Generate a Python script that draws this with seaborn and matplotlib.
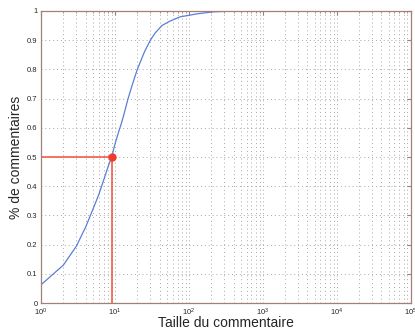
import matplotlib
matplotlib.use("Agg")
import matplotlib.pyplot as plt
import seaborn as sns
import numpy as np
import pandas as pd

# cumulative share of comments vs comment length
taille = [1, 2, 3, 4, 5, 6, 7, 8, 9, 10, 11, 12, 13, 15, 17, 20, 25, 30, 35, 43, 55, 76, 100,
          127, 213, 400, 1000, 10000]
part = [0.063, 0.13, 0.195, 0.26, 0.32, 0.37, 0.42, 0.465, 0.5, 0.545, 0.58, 0.61, 0.64, 0.70,
        0.745, 0.80, 0.86, 0.90, 0.925, 0.95, 0.965, 0.98, 0.985, 0.99, 0.997, 1.0, 1.0, 1.0]
mediane_x = 9
mediane_y = 0.5

df = pd.DataFrame({"taille": taille, "part": part})

sns.set_style("white")
plt.rcParams["font.family"] = ["Liberation Sans", "DejaVu Sans"]

fig = plt.figure(figsize=(4.15, 3.32), dpi=100)
ax = fig.add_axes([0.099, 0.087, 0.891, 0.88])

sns.lineplot(data=df, x="taille", y="part", ax=ax, color="#5b7fd6", linewidth=0.9)

# median guide lines
ax.plot([1, mediane_x], [mediane_y, mediane_y], color="#f0503c", linewidth=1.1)
ax.plot([mediane_x, mediane_x], [0, mediane_y], color="#f0503c", linewidth=1.1)
ax.plot([mediane_x], [mediane_y], "o", color="#f03c30", markersize=5)

ax.set_xscale("log")
ax.set_xlim(1, 1e5)
ax.set_ylim(0, 1)
ax.set_yticks(np.arange(0, 1.01, 0.1))
ax.set_yticklabels(["0", "0.1", "0.2", "0.3", "0.4", "0.5", "0.6", "0.7", "0.8", "0.9", "1"])

ax.grid(True, which="major", linestyle=(0, (1, 3)), color="#a8a8a8", linewidth=0.7)
ax.grid(True, which="minor", axis="x", linestyle=(0, (1, 3)), color="#a8a8a8", linewidth=0.7)

frame = "#a08078"
for s in ax.spines.values():
    s.set_color(frame)
    s.set_linewidth(0.9)
ax.tick_params(which="both", direction="in", top=True, right=True, color=frame,
               labelsize=5.5, pad=2.5, length=3)
ax.tick_params(which="minor", length=1.5)

ax.set_xlabel("Taille du commentaire", fontsize=10, labelpad=-1)
ax.set_ylabel("% de commentaires", fontsize=10, labelpad=3)

fig.savefig("out.png", dpi=100)
